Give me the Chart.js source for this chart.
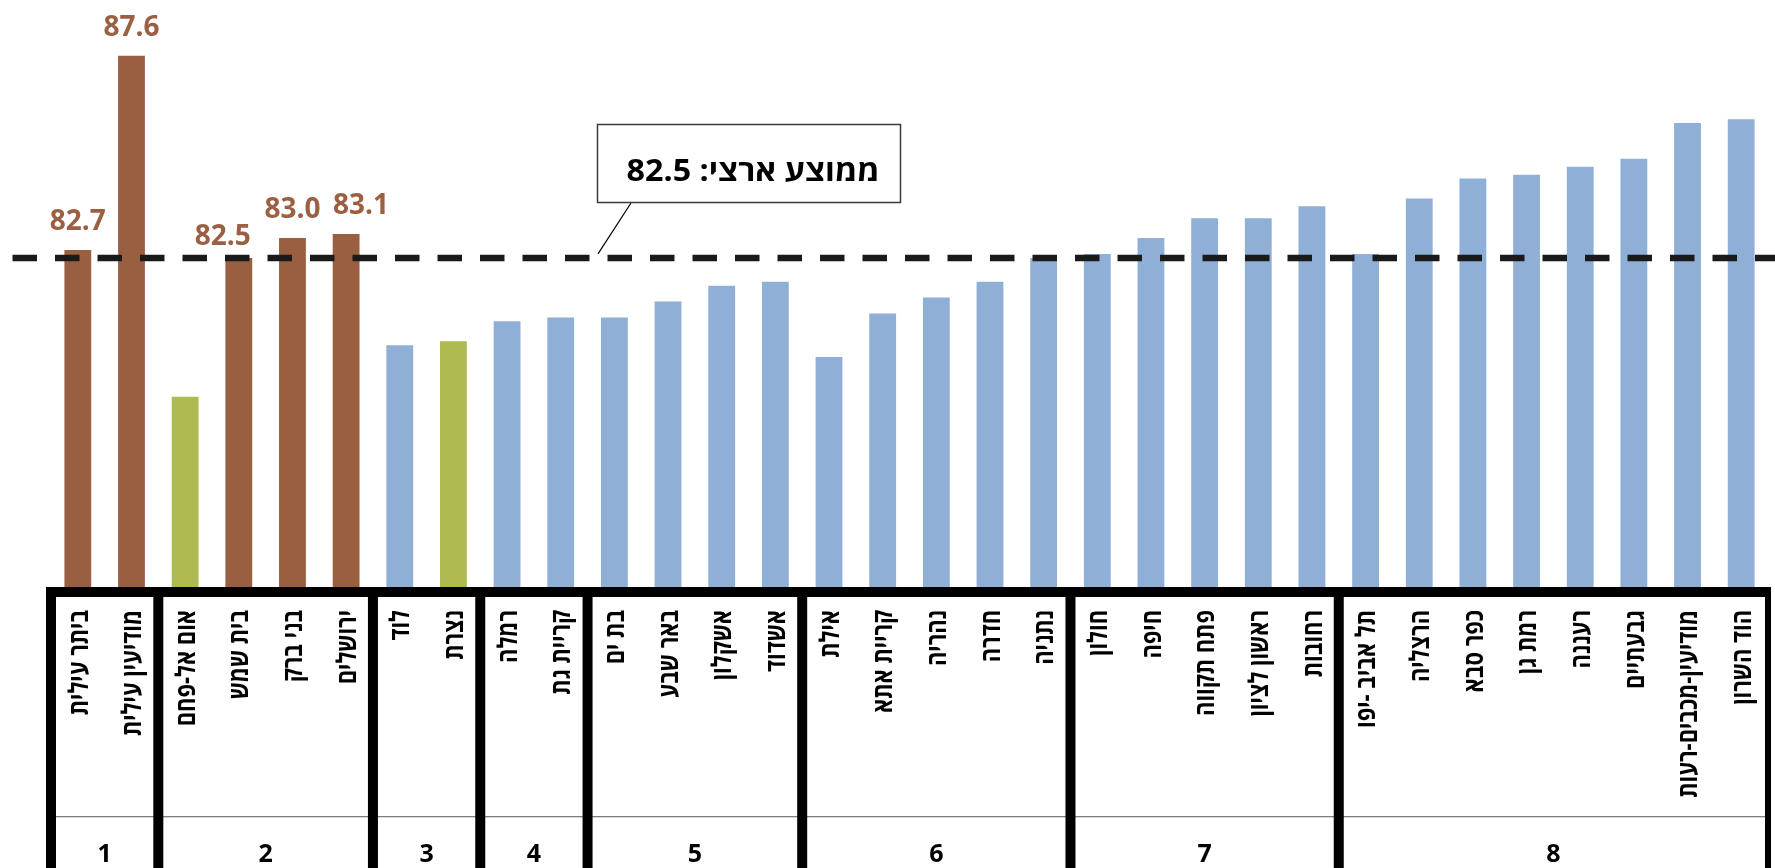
<!DOCTYPE html>
<html><head><meta charset="utf-8">
<script src="https://cdn.jsdelivr.net/npm/chart.js@4.4.1/dist/chart.umd.min.js"></script>
<style>html,body{margin:0;padding:0;background:#fff;overflow:hidden}</style>
</head><body>
<canvas id="c" width="1775" height="868" style="display:block;width:1775px;height:868px"></canvas>
<script>
const categories = ['ביתר עילית','מודיעין עילית','אום אל-פחם','בית שמש','בני ברק','ירושלים','לוד','נצרת','רמלה','קריית גת','בת ים','באר שבע','אשקלון','אשדוד','אילת','קריית אתא','נהריה','חדרה','נתניה','חולון','חיפה','פתח תקווה','ראשון לציון','רחובות','תל אביב -יפו','הרצליה','כפר סבא','רמת גן','רעננה','גבעתיים','מודיעין-מכבים-רעות','הוד השרון'];
const values = [82.7,87.6,79.0,82.5,83.0,83.1,80.3,80.4,80.9,81.0,81.0,81.4,81.8,81.9,80.0,81.1,81.5,81.9,82.5,82.6,83.0,83.5,83.5,83.8,82.6,84.0,84.5,84.6,84.8,85.0,85.9,86.0];
const sectors = ['haredi','haredi','arab','haredi','haredi','haredi','general','arab','general','general','general','general','general','general','general','general','general','general','general','general','general','general','general','general','general','general','general','general','general','general','general','general'];
const groupLabels = ['1','2','3','4','5','6','7','8'];
const groupSizes = [2,4,2,2,4,5,5,8];
const nationalAverage = 82.5;
const averageText = 'ממוצע ארצי: ' + nationalAverage.toFixed(1);

const sectorColors = {haredi:'#9A5F41', arab:'#AFBA50', general:'#8FAFD7'};
const FONT = '"Open Sans", "DejaVu Sans", sans-serif';

const overlay = {
  id:'overlay',
  afterDatasetsDraw(chart){
    const ctx = chart.ctx, xs = chart.scales.x, ys = chart.scales.y;
    const meta = chart.getDatasetMeta(0);
    const W = chart.width, H = chart.height;
    const catW = xs.getPixelForValue(1) - xs.getPixelForValue(0);
    ctx.save();
    // average dashed line
    const ay = ys.getPixelForValue(nationalAverage);
    ctx.strokeStyle = '#1a1a1a'; ctx.lineWidth = 6.5; ctx.setLineDash([24.5,18]);
    ctx.beginPath(); ctx.moveTo(12.5, ay); ctx.lineTo(W, ay); ctx.stroke();
    ctx.setLineDash([]);
    // leader + box
    ctx.strokeStyle = '#000'; ctx.lineWidth = 1.2;
    ctx.beginPath(); ctx.moveTo(631, 203); ctx.lineTo(598, ay - 4); ctx.stroke();
    ctx.fillStyle = '#fff'; ctx.fillRect(597, 124, 304, 78);
    ctx.strokeStyle = '#3a3a3a'; ctx.lineWidth = 1.5; ctx.strokeRect(597.5, 124.5, 303, 78);
    ctx.fillStyle = '#000'; ctx.font = 'bold 30px ' + FONT; ctx.direction = 'rtl';
    ctx.textAlign = 'center'; ctx.textBaseline = 'alphabetic';
    const tw = ctx.measureText(averageText).width;
    ctx.save(); ctx.translate(753, 181); ctx.scale(253 / tw, 1);
    ctx.fillText(averageText, 0, 0); ctx.restore();
    // value labels
    const nudge = {3:{dx:-16, dy:7}, 5:{dx:15, dy:0}};
    ctx.direction = 'ltr'; ctx.font = 'bold 28px ' + FONT; ctx.fillStyle = '#9B5F42';
    values.forEach((v,i)=>{
      if (sectors[i] !== 'haredi') return;
      const el = meta.data[i]; const n = nudge[i] || {dx:0,dy:0};
      ctx.fillText(v.toFixed(1), el.x + n.dx, el.y - 20 + n.dy);
    });
    // category labels, rotated
    ctx.fillStyle = '#000'; ctx.font = 'bold 27px ' + FONT; ctx.direction = 'rtl';
    ctx.textAlign = 'right'; ctx.textBaseline = 'middle';
    categories.forEach((c,i)=>{
      const x = xs.getPixelForValue(i);
      ctx.save(); ctx.translate(x + 2, 610); ctx.rotate(-Math.PI/2); ctx.scale(0.81, 1);
      ctx.fillText(c, 0, 0); ctx.restore();
    });
    ctx.direction = 'ltr';
    // frame
    const base = chart.chartArea.bottom;
    ctx.fillStyle = '#000';
    const left = xs.getPixelForValue(0) - catW/2;
    const right = xs.getPixelForValue(categories.length-1) + catW/2;
    ctx.fillRect(left - 5, base, right - left + 8, 10);
    // thin line
    ctx.fillStyle = '#7f7f7f'; ctx.fillRect(left, 816, right - left, 1.3);
    ctx.fillStyle = '#000';
    let k = 0;
    const bounds = [left];
    groupSizes.forEach(s=>{ k += s; bounds.push(xs.getPixelForValue(k-1) + catW/2); });
    bounds.forEach((b,j)=>{
      const w = (j === bounds.length-1) ? 6 : 10;
      const off = (j === bounds.length-1) ? -3 : -5;
      ctx.fillRect(b + off, base, w, H - base);
    });
    ctx.font = 'bold 25px ' + FONT; ctx.textAlign = 'center'; ctx.textBaseline = 'alphabetic';
    groupLabels.forEach((g,j)=>{
      ctx.fillText(g, (bounds[j] + bounds[j+1]) / 2, 862);
    });
    ctx.restore();
  }
};

new Chart(document.getElementById('c'), {
  type:'bar',
  data:{ labels: categories, datasets:[{ data: values,
    backgroundColor: sectors.map(s=>sectorColors[s]),
    barPercentage: 0.5, categoryPercentage: 1.0 }]},
  options:{
    responsive:false, animation:false, devicePixelRatio:1,
    layout:{ padding:{ left:51, right:7, top:20, bottom:281 } },
    plugins:{ legend:{display:false}, tooltip:{enabled:false} },
    scales:{
      x:{ display:false },
      y:{ display:false, min:74.2, max:88.5 }
    }
  },
  plugins:[overlay]
});
</script>
</body></html>
